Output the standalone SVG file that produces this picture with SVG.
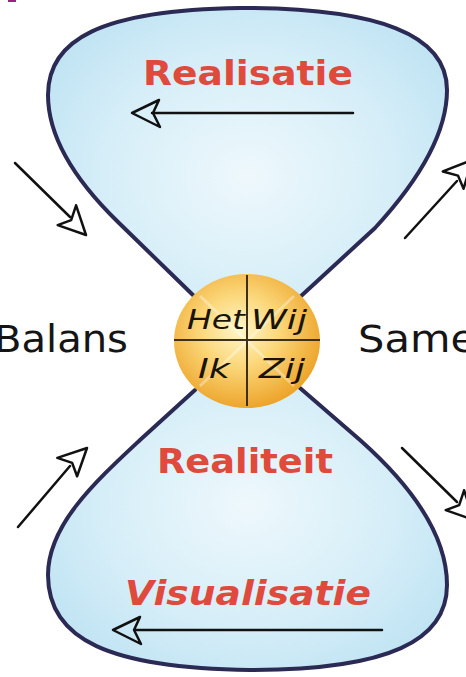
<svg xmlns="http://www.w3.org/2000/svg" width="466" height="677" viewBox="0 0 466 677">
<style>
.lobe{fill:url(#blue);stroke:none}
.edge{fill:none;stroke:#2b2a55;stroke-width:4;stroke-linecap:round;stroke-linejoin:round}
.red{font-family:"DejaVu Sans",sans-serif;font-weight:bold;fill:#e04a3c;font-size:33px}
.blk{font-family:"DejaVu Sans",sans-serif;fill:#151515;font-size:37px}
.q{font-family:"DejaVu Sans",sans-serif;font-style:italic;fill:#1a1408;font-size:27px}
.ln{fill:none;stroke:#111;stroke-width:2.5;stroke-linecap:round}
.ah{fill:#fff;fill-opacity:0;stroke:#111;stroke-width:2.5;stroke-linejoin:round}
</style>
<defs>
<radialGradient id="blue" cx="0.5" cy="0.5" r="0.6">
<stop offset="0" stop-color="#eef8fc"/>
<stop offset="0.6" stop-color="#d6eef8"/>
<stop offset="1" stop-color="#bfe3f3"/>
</radialGradient>
<radialGradient id="sun" cx="0.45" cy="0.42" r="0.6">
<stop offset="0" stop-color="#fff6c8"/>
<stop offset="0.45" stop-color="#fbd77a"/>
<stop offset="1" stop-color="#eca227"/>
</radialGradient>
<path id="head" d="M0,0 L-28,-14 L-21,0 L-27,13 Z"/>
</defs>
<rect width="466" height="677" fill="#fff"/>
<rect x="8" y="0" width="8" height="2" fill="#a0207a"/>
<g id="top-lobe">
<path class="lobe" d="M195,297 L118,222 C80,185 48,140 48,95 C48,40 100,10 240,8 C380,8 447,35 447,90 C447,140 410,190 375,228 L300,297 L247,345 Z"/>
<path class="edge" d="M195,297 L118,222 C80,185 48,140 48,95 C48,40 100,10 240,8 C380,8 447,35 447,90 C447,140 410,190 375,228 L300,297"/>
<text class="red" x="248" y="85" text-anchor="middle" textLength="210" lengthAdjust="spacingAndGlyphs">Realisatie</text>
</g>
<g id="bottom-lobe">
<path class="lobe" d="M195,390 L140,440 C95,482 48,525 48,575 C48,640 110,668 250,670 C390,670 447,640 447,585 C447,530 405,480 360,440 L300,388 L247,340 Z"/>
<path class="edge" d="M195,390 L140,440 C95,482 48,525 48,575 C48,640 110,668 250,670 C390,670 447,640 447,585 C447,530 405,480 360,440 L300,388"/>
<text class="red" x="245" y="473" text-anchor="middle" textLength="176" lengthAdjust="spacingAndGlyphs">Realiteit</text>
<text class="red" x="248" y="605" text-anchor="middle" font-style="italic" textLength="246" lengthAdjust="spacingAndGlyphs">Visualisatie</text>
</g>
<g id="center">
<ellipse cx="247" cy="341" rx="73" ry="67" fill="url(#sun)"/>
<line x1="200" y1="296" x2="294" y2="386" stroke="#fff" stroke-opacity="0.35" stroke-width="3"/>
<line x1="294" y1="296" x2="200" y2="386" stroke="#fff" stroke-opacity="0.35" stroke-width="3"/>
<line x1="247" y1="275" x2="247" y2="406" stroke="#3d2f18" stroke-width="2"/>
<line x1="174" y1="340" x2="320" y2="340" stroke="#3d2f18" stroke-width="2"/>
<text class="q" x="216" y="329" text-anchor="middle" textLength="58" lengthAdjust="spacingAndGlyphs">Het</text>
<text class="q" x="279" y="329" text-anchor="middle" textLength="56" lengthAdjust="spacingAndGlyphs">Wij</text>
<text class="q" x="214" y="378" text-anchor="middle" textLength="32" lengthAdjust="spacingAndGlyphs">Ik</text>
<text class="q" x="282" y="378" text-anchor="middle" textLength="46" lengthAdjust="spacingAndGlyphs">Zij</text>
</g>
<g id="side-labels">
<text class="blk" x="-6" y="352" textLength="134" lengthAdjust="spacingAndGlyphs">Balans</text>
<text class="blk" x="358" y="352" textLength="118" lengthAdjust="spacingAndGlyphs">Same</text>
</g>
<g id="connectors">
<line class="ln" x1="353" y1="113" x2="152" y2="113"/>
<use href="#head" class="ah" transform="translate(132,113) rotate(180)"/>
<line class="ln" x1="382" y1="630" x2="135" y2="630"/>
<use href="#head" class="ah" transform="translate(113,630) rotate(180)"/>
<line class="ln" x1="15" y1="163" x2="70" y2="217"/>
<use href="#head" class="ah" transform="translate(86,235) rotate(45)"/>
<line class="ln" x1="18" y1="527" x2="70" y2="466"/>
<use href="#head" class="ah" transform="translate(87,448) rotate(-45)"/>
<line class="ln" x1="405" y1="238" x2="457" y2="181"/>
<use href="#head" class="ah" transform="translate(472,160) rotate(-48)"/>
<line class="ln" x1="402" y1="448" x2="457" y2="502"/>
<use href="#head" class="ah" transform="translate(474,520) rotate(45)"/>
</g>
</svg>
